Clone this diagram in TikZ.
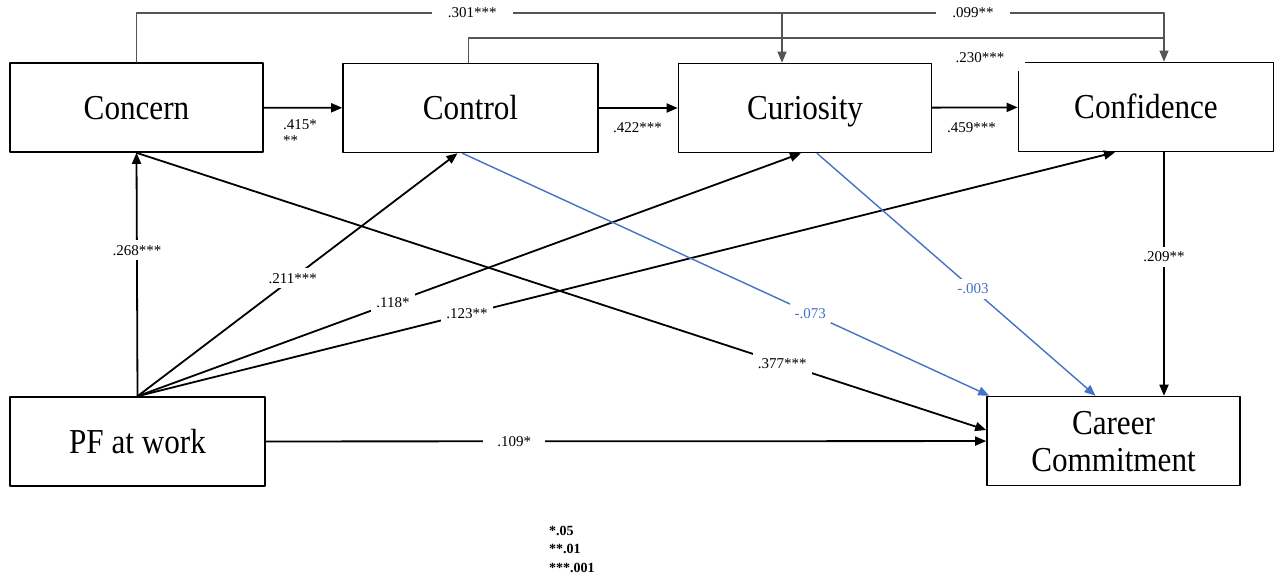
\documentclass[tikz,border=0pt]{standalone}
\usepackage{graphicx}
\usepackage{fontspec}
\setmainfont{Liberation Serif}
\usetikzlibrary{arrows.meta}

\definecolor{pathblue}{RGB}{68,114,196}
\definecolor{linegray}{RGB}{85,85,85}
\newcommand{\squash}[1]{\scalebox{0.89}[1]{#1\rule[-6pt]{0pt}{36pt}}}

\begin{document}
\begin{tikzpicture}[x=1pt,y=-1pt,line cap=round,line join=round,>={Triangle[length=11pt,width=9pt]}]
      \tikzset{
        box/.style={draw,line width=1.6pt,minimum width=253pt,minimum height=89pt,align=center,font=\fontsize{35}{37}\selectfont},
        effect/.style={line width=1.8pt,->},
        topline/.style={draw=linegray,line width=1.1pt},
        neg/.style={draw=pathblue,line width=1.4pt,->},
        coef/.style={font=\fontsize{15}{16}\selectfont,fill=white,inner sep=5pt}
      }
      \useasboundingbox (0,0) rectangle (1276,588);
      % the six scales
      \node[box] (concern) at (136.5,107.5) {\squash{Concern}};
      \node[box,minimum width=255pt] (control) at (470.5,108) {\squash{Control}};
      \node[box] (curiosity) at (805,108) {\squash{Curiosity}};
      \node[box,minimum width=255pt] (confidence) at (1146,107) {\squash{Confidence}};
      \node[box,minimum width=255pt] (pf) at (137.5,441.5) {\squash{PF at work}};
      \node[box] (commit) at (1113.5,441) {\squash{Career}\\\squash{Commitment}};
      % routing points above the boxes
      \coordinate (k1) at (782,13);
      \coordinate (k2) at (1164,13);
      \coordinate (k3) at (1164,38);
      \draw[topline] (concern.north) |- node[coef,pos=0.76,inner xsep=16pt] {.301***} (k1);
      \draw[topline] (k1) -- node[coef,pos=0.5,inner xsep=16pt] {.099**} (k2);
      \draw[topline,->] (k1) -- (k1 |- curiosity.north);
      \draw[topline,->] (k2) -- (k2 |- confidence.north);
      \draw[topline] ([xshift=-2pt]control.north) |- (k3);
      \node[coef,inner xsep=21pt,inner ysep=8pt] at (980,58) {.230***};
      % chain
      \draw[effect] (concern) -- (control);
      \draw[effect] (control) -- (curiosity);
      \draw[effect] (curiosity) -- (confidence);
      \node[coef,fill=none,inner sep=0pt,anchor=north west,align=left] at (283,119) {.415*\\**};
      \node[coef,fill=none,inner sep=0pt,anchor=west] at (613,128) {.422***};
      \node[coef,fill=none,inner sep=0pt,anchor=west] at (947,128) {.459***};
      % from PF at work
      \draw[effect] (pf.north) -- node[coef,pos=0.6] {.268***} (concern.south);
      \draw[effect] (pf.north) -- node[coef,pos=0.485] {.211***} ([xshift=-13pt]control.south);
      \draw[effect] (pf.north) -- node[coef,pos=0.385] {.118*} ([xshift=-4pt]curiosity.south);
      \draw[effect] (pf.north) -- node[coef,pos=0.337] {.123**} ([xshift=-31pt]confidence.south);
      \draw[effect] (pf) -- node[coef,pos=0.345,inner xsep=14pt] {.109*} (commit);
      % into career commitment
      \draw[effect] (concern.south) -- node[coef,pos=0.76] {.377***} ([yshift=11pt]commit.west);
      \draw[neg] ([xshift=-8pt]control.south) -- node[coef,pos=0.66,text=pathblue] {-.073} ([xshift=3pt]commit.north west);
      \draw[neg] ([xshift=12pt]curiosity.south) -- node[coef,pos=0.56,text=pathblue] {-.003} ([xshift=-18pt]commit.north);
      \draw[effect] (k2 |- confidence.south) -- node[coef,pos=0.43] {.209**} (k2 |- commit.north);
      % key
      \node[anchor=west,align=left,inner sep=0pt,font=\bfseries\fontsize{14}{18.5}\selectfont] (key) at (549,549) {*.05\\**.01\\***.001};
    \end{tikzpicture}
\end{document}
